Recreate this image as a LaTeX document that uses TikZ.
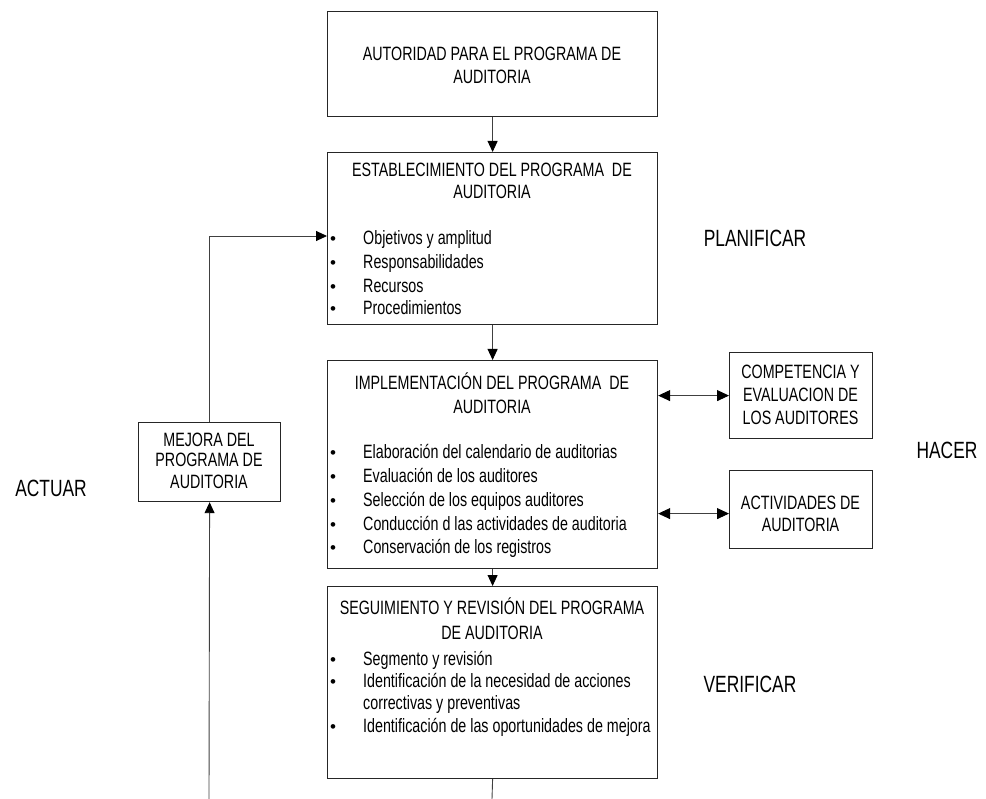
\documentclass[tikz,border=0pt]{standalone}
\usepackage{fontspec}
\setmainfont{Liberation Sans}[FakeStretch=0.74]
\newfontfamily\bulfont{Liberation Sans}
\usetikzlibrary{arrows.meta}
\begin{document}
\begin{tikzpicture}[x=1pt,y=-1pt,
 box/.style={draw=black!85, line width=1.2pt, anchor=north west, inner sep=0},
 txt/.style={font=\fontsize{19.3}{22}\selectfont, anchor=base, inner sep=0},
 ltxt/.style={txt, anchor=base west},
 lab/.style={font=\fontsize{23.5}{27}\selectfont, anchor=base, inner sep=0},
 bul/.style={font=\bulfont\fontsize{17}{18}\selectfont, anchor=base, inner sep=0},
 conn/.style={draw=black!75, line width=0.9pt},
 tip/.style={-{Triangle[length=11pt,width=10pt,color=black]}},
 dtip/.style={{Triangle[length=12pt,width=11pt,color=black]}-{Triangle[length=12pt,width=11pt,color=black]}}
]
\useasboundingbox (0,0) rectangle (986,799);

% boxes
\node[box, minimum width=330, minimum height=105] (b1) at (327,11) {};
\node[box, minimum width=330, minimum height=172] (b2) at (327,152) {};
\node[box, minimum width=330, minimum height=208] (b3) at (327,360) {};
\node[box, minimum width=330, minimum height=192] (b4) at (327,586) {};
\node[box, minimum width=142, minimum height=79] (mej) at (138,422) {};
\node[box, minimum width=143, minimum height=86] (comp) at (729,352) {};
\node[box, minimum width=143, minimum height=78] (act) at (729,470) {};

% box 1
\node[txt] (t1a) at (492,61) {AUTORIDAD PARA EL PROGRAMA DE};
\node[txt] (t1b) at (492,84) {AUDITORIA};

% box 2
\node[txt] (t2a) at (492,177) {ESTABLECIMIENTO DEL PROGRAMA\ \ DE};
\node[txt] (t2b) at (492,199) {AUDITORIA};
\foreach \y/\t [count=\i] in {245/Objetivos y amplitud, 269/Responsabilidades, 293/Recursos, 315/Procedimientos}{
  \node[bul] (u2\i) at (333,\y) {•};
  \node[ltxt] (l2\i) at (363,\y) {\t};
}

% box 3
\node[txt] (t3a) at (492,390) {IMPLEMENTACIÓN DEL PROGRAMA\ \ DE};
\node[txt] (t3b) at (492,414) {AUDITORIA};
\foreach \y/\t [count=\i] in {459/Elaboración del calendario de auditorias, 483/Evaluación de los auditores, 507/Selección de los equipos auditores, 530/Conducción d las actividades de auditoria, 554/Conservación de los registros}{
  \node[bul] (u3\i) at (333,\y) {•};
  \node[ltxt] (l3\i) at (363,\y) {\t};
}

% box 4
\node[txt] (t4a) at (492,614) {SEGUIMIENTO Y REVISIÓN DEL PROGRAMA};
\node[txt] (t4b) at (492,639) {DE AUDITORIA};
\node[bul] (u41) at (333,665) {•};
\node[ltxt] (l41) at (363,665) {Segmento y revisión};
\node[bul] (u42) at (333,687) {•};
\node[ltxt] (l42) at (363,687) {Identificación de la necesidad de acciones};
\node[ltxt] (l43) at (363,709) {correctivas y preventivas};
\node[bul] (u44) at (333,732) {•};
\node[ltxt] (l44) at (363,732) {Identificación de las oportunidades de mejora};

% mejora
\node[txt] (m1) at (209,447) {MEJORA DEL};
\node[txt] (m2) at (209,467) {PROGRAMA DE};
\node[txt] (m3) at (209,489) {AUDITORIA};

% competencia
\node[txt] (c1) at (800.5,379) {COMPETENCIA Y};
\node[txt] (c2) at (800.5,402) {EVALUACION DE};
\node[txt] (c3) at (800.5,425) {LOS AUDITORES};

% actividades
\node[txt] (a1) at (800.5,510) {ACTIVIDADES DE};
\node[txt] (a2) at (800.5,532) {AUDITORIA};

% labels
\node[lab] (pl) at (755,247) {PLANIFICAR};
\node[lab] (ha) at (947,459) {HACER};
\node[lab] (ac) at (51,497) {ACTUAR};
\node[lab] (ve) at (750,692) {VERIFICAR};

% connectors
\coordinate (in2) at (327,236);
\coordinate (bot1) at (492,799);
\coordinate (bot2) at (209,799);
\draw[conn,tip] (b1.south) -- (b2.north);
\draw[conn,tip] (b2.south) -- (b3.north);
\draw[conn,tip] (b3.south) -- (b4.north);
\draw[conn] (b4.south) -- (bot1);
\draw[conn,tip] (bot2) -- (mej.south);
\draw[conn,tip] (mej.north) |- (in2);
\draw[conn,dtip] (b3.east |- comp.west) -- (comp.west);
\draw[conn,dtip] ([yshift=-4pt]b3.east |- act.west) -- ([yshift=-4pt]act.west);
\end{tikzpicture}
\end{document}
